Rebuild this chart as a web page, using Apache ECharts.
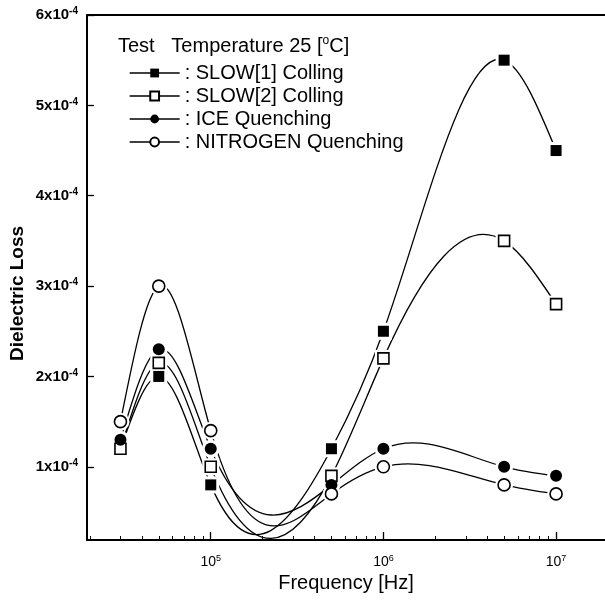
<!DOCTYPE html>
<html>
<head>
<meta charset="utf-8">
<script src="https://cdn.jsdelivr.net/npm/echarts@6/dist/echarts.min.js"></script>
<style>
  html, body { margin: 0; padding: 0; background: #ffffff; }
  #chart { width: 605px; height: 605px; }
</style>
</head>
<body>
<div id="chart"></div>
<script>
// Measurement frequencies [Hz]
const frequencies = [3e4, 5e4, 1e5, 5e5, 1e6, 5e6, 1e7];

// Dielectric loss for each cooling / quenching condition
const slow1Loss    = [1.2e-4, 2.0e-4, 0.8e-4, 1.2e-4, 2.5e-4, 5.5e-4, 4.5e-4];
const slow2Loss    = [1.2e-4, 2.15e-4, 1.0e-4, 0.9e-4, 2.2e-4, 3.5e-4, 2.8e-4];
const iceLoss      = [1.3e-4, 2.3e-4, 1.2e-4, 0.8e-4, 1.2e-4, 1.0e-4, 0.9e-4];
const nitrogenLoss = [1.5e-4, 3.0e-4, 1.4e-4, 0.7e-4, 1.0e-4, 0.8e-4, 0.7e-4];

const seriesNames = ['SLOW[1] Colling', 'SLOW[2] Colling', 'ICE Quenching', 'NITROGEN Quenching'];

// Axis ticks
const xMajorTicks = [1e5, 1e6, 1e7];
const xMinorTicks = [2e4, 3e4, 4e4, 5e4, 6e4, 7e4, 8e4, 9e4,
                     2e5, 3e5, 4e5, 5e5, 6e5, 7e5, 8e5, 9e5,
                     2e6, 3e6, 4e6, 5e6, 6e6, 7e6, 8e6, 9e6];
const yTicks = [1e-4, 2e-4, 3e-4, 4e-4, 5e-4, 6e-4];

const X_MIN = 1.92e4, X_MAX = 1.92e7;
const Y_MIN = 0.19e-4, Y_MAX = 6e-4;
const FONT = '"Liberation Sans", Arial, Helvetica, sans-serif';

function pairs(values) {
  return frequencies.map((f, i) => [f, values[i]]);
}

// Slopes (dy/dx) of a natural cubic spline through pixel points
function splineSlopes(pts) {
  const n = pts.length;
  const h = [], s = [];
  for (let i = 0; i < n - 1; i++) {
    h[i] = pts[i + 1][0] - pts[i][0];
    s[i] = (pts[i + 1][1] - pts[i][1]) / h[i];
  }
  const M = new Array(n).fill(0);
  const b = [], c = [], r = [], a = [];
  for (let i = 1; i < n - 1; i++) {
    a[i] = h[i - 1];
    b[i] = 2 * (h[i - 1] + h[i]);
    c[i] = h[i];
    r[i] = 6 * (s[i] - s[i - 1]);
  }
  for (let i = 2; i < n - 1; i++) {
    const m = a[i] / b[i - 1];
    b[i] -= m * c[i - 1];
    r[i] -= m * r[i - 1];
  }
  for (let i = n - 2; i >= 1; i--) {
    M[i] = (r[i] - c[i] * M[i + 1]) / b[i];
  }
  const d = [];
  for (let i = 0; i < n - 1; i++) d[i] = s[i] - h[i] * (2 * M[i] + M[i + 1]) / 6;
  d[n - 1] = s[n - 2] + h[n - 2] * (M[n - 2] + 2 * M[n - 1]) / 6;
  return d;
}

// Smooth curve through one condition's points, one cubic segment per data item
function curveSeries(name, values) {
  return {
    name: name + ' curve',
    type: 'custom',
    xAxisIndex: 0,
    yAxisIndex: 0,
    data: pairs(values),
    clip: true,
    silent: true,
    z: 2,
    renderItem: function (params, api) {
      const i = params.dataIndex;
      if (i >= frequencies.length - 1) return null;
      const pts = frequencies.map((f, k) => api.coord([f, values[k]]));
      const d = splineSlopes(pts);
      const h = pts[i + 1][0] - pts[i][0];
      return {
        type: 'bezierCurve',
        shape: {
          x1: pts[i][0], y1: pts[i][1],
          x2: pts[i + 1][0], y2: pts[i + 1][1],
          cpx1: pts[i][0] + h / 3, cpy1: pts[i][1] + d[i] * h / 3,
          cpx2: pts[i + 1][0] - h / 3, cpy2: pts[i + 1][1] - d[i + 1] * h / 3
        },
        style: { stroke: '#000', lineWidth: 1.3, fill: null }
      };
    }
  };
}

// White clearance around each marker, so curves stop short of the symbols
function haloSeries(name, values, symbol) {
  return {
    name: name + ' halo',
    type: 'line',
    xAxisIndex: 0,
    yAxisIndex: 0,
    data: pairs(values),
    symbol: symbol,
    symbolSize: symbol === 'rect' ? 17 : 18,
    showAllSymbol: true,
    silent: true,
    lineStyle: { width: 0, opacity: 0 },
    itemStyle: { color: '#fff', borderWidth: 0 },
    emphasis: { disabled: true },
    z: 3
  };
}

// Markers for one condition
function markerSeries(name, values, symbol, filled) {
  return {
    name: name,
    type: 'line',
    xAxisIndex: 0,
    yAxisIndex: 0,
    data: pairs(values),
    symbol: symbol,
    symbolSize: symbol === 'rect' ? 11 : 12,
    showAllSymbol: true,
    lineStyle: { width: 0, opacity: 0 },
    itemStyle: {
      color: filled ? '#000' : '#fff',
      borderColor: '#000',
      borderWidth: filled ? 0 : 1.6
    },
    emphasis: { disabled: true },
    z: 4
  };
}

const chart = echarts.init(document.getElementById('chart'), null, { renderer: 'canvas' });

const option = {
  animation: false,
  backgroundColor: '#fff',
  textStyle: { fontFamily: FONT, color: '#000' },
  title: {
    text: '{a|Test   Temperature 25 [}{s|o}{a|C]}',
    left: 113,
    top: 30,
    textStyle: {
      rich: {
        a: { fontFamily: FONT, fontSize: 20, fontWeight: 'normal', color: '#000', lineHeight: 22 },
        s: { fontFamily: FONT, fontSize: 12, fontWeight: 'normal', color: '#000', verticalAlign: 'top', lineHeight: 11 }
      }
    }
  },
  legend: {
    data: seriesNames,
    orient: 'vertical',
    left: 124,
    top: 58,
    itemWidth: 50,
    itemHeight: 11,
    itemGap: 3,
    selectedMode: false,
    formatter: ': {name}',
    lineStyle: { color: '#000', width: 1.3, opacity: 1, type: 'solid' },
    textStyle: { fontFamily: FONT, fontSize: 20, color: '#000', lineHeight: 20 }
  },
  grid: { left: 86, right: 0, top: 15, bottom: 65, containLabel: false },
  xAxis: [
    {
      type: 'log',
      min: X_MIN,
      max: X_MAX,
      name: 'Frequency [Hz]',
      nameLocation: 'middle',
      nameGap: 33,
      nameTextStyle: { fontFamily: FONT, fontSize: 20, color: '#000' },
      axisLine: { show: true, lineStyle: { color: '#000', width: 2 } },
      axisTick: { show: true, inside: true, length: 8, customValues: xMajorTicks, lineStyle: { color: '#000', width: 1.3 } },
      axisLabel: {
        customValues: xMajorTicks,
        margin: 14,
        formatter: v => '{m|10}{s|' + Math.round(Math.log10(v)) + '}',
        rich: {
          m: { fontFamily: FONT, fontSize: 14, color: '#000', lineHeight: 16 },
          s: { fontFamily: FONT, fontSize: 9, color: '#000', verticalAlign: 'top', lineHeight: 9 }
        }
      },
      splitLine: { show: false }
    },
    {
      // minor ticks along the frequency axis
      type: 'log',
      min: X_MIN,
      max: X_MAX,
      gridIndex: 0,
      position: 'bottom',
      axisLine: { show: false },
      axisTick: { show: true, inside: true, length: 4, customValues: xMinorTicks, lineStyle: { color: '#000', width: 1 } },
      axisLabel: { show: false },
      splitLine: { show: false }
    },
    {
      // upper frame line
      type: 'log',
      min: X_MIN,
      max: X_MAX,
      gridIndex: 0,
      position: 'top',
      axisLine: { show: true, lineStyle: { color: '#000', width: 2 } },
      axisTick: { show: false },
      axisLabel: { show: false },
      splitLine: { show: false }
    }
  ],
  yAxis: {
    type: 'value',
    min: Y_MIN,
    max: Y_MAX,
    name: 'Dielectric Loss',
    nameLocation: 'middle',
    nameGap: 60,
    nameRotate: 90,
    nameMoveOverlap: false,
    nameTextStyle: { fontFamily: FONT, fontSize: 19, fontWeight: 'bold', color: '#000', padding: [0, 32, 0, 0] },
    axisLine: { show: true, lineStyle: { color: '#000', width: 2 } },
    axisTick: { show: true, inside: true, length: 7, customValues: yTicks, lineStyle: { color: '#000', width: 1.3 } },
    axisLabel: {
      customValues: yTicks,
      margin: 9,
      formatter: v => '{m|' + Math.round(v / 1e-4) + 'x10}{s|-4}',
      rich: {
        m: { fontFamily: FONT, fontSize: 15, fontWeight: 'bold', color: '#000', lineHeight: 17 },
        s: { fontFamily: FONT, fontSize: 10, fontWeight: 'bold', color: '#000', verticalAlign: 'top', lineHeight: 9 }
      }
    },
    splitLine: { show: false }
  },
  series: [
    curveSeries(seriesNames[0], slow1Loss),
    curveSeries(seriesNames[1], slow2Loss),
    curveSeries(seriesNames[2], iceLoss),
    curveSeries(seriesNames[3], nitrogenLoss),
    haloSeries(seriesNames[0], slow1Loss, 'rect'),
    haloSeries(seriesNames[1], slow2Loss, 'rect'),
    haloSeries(seriesNames[2], iceLoss, 'circle'),
    haloSeries(seriesNames[3], nitrogenLoss, 'circle'),
    markerSeries(seriesNames[0], slow1Loss, 'rect', true),
    markerSeries(seriesNames[1], slow2Loss, 'rect', false),
    markerSeries(seriesNames[2], iceLoss, 'circle', true),
    markerSeries(seriesNames[3], nitrogenLoss, 'circle', false)
  ]
};

chart.setOption(option);
</script>
</body>
</html>
